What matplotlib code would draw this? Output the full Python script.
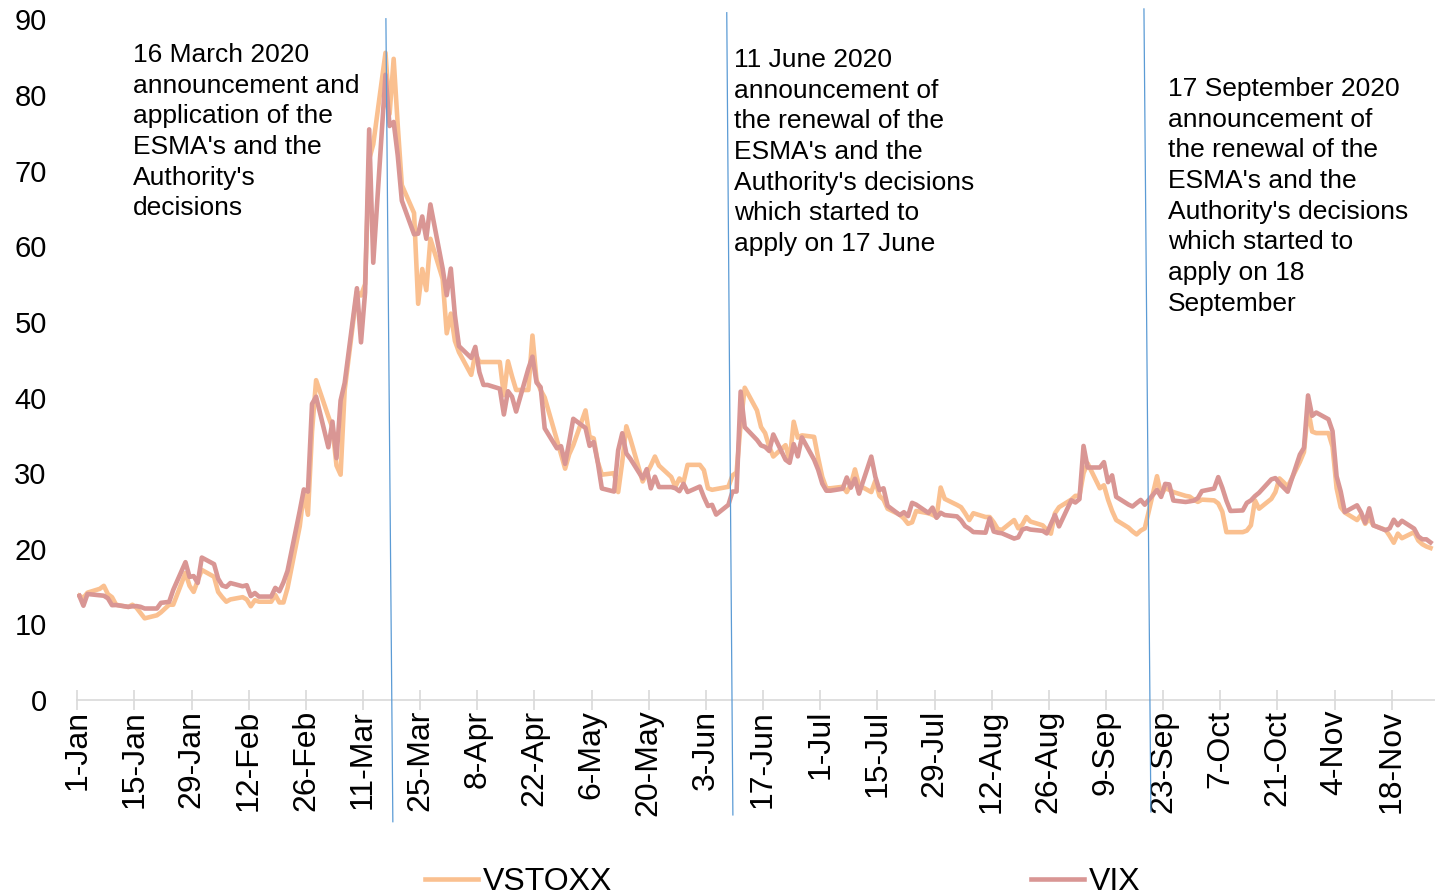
import numpy as np
import pandas as pd
import matplotlib
matplotlib.use("Agg")
import matplotlib.pyplot as plt

plt.rcParams['font.family'] = ['Liberation Sans', 'DejaVu Sans']

# daily closes (weekdays, holidays carry the previous value), 1 Jan - 27 Nov 2020
vstoxx = [
    # Jan
    13.8, 13.5, 14.2, 14.7, 15.1, 14.0, 13.6, 12.6, 12.3, 12.6, 12.2, 11.5, 10.8, 11.2, 11.6, 12.1,
    12.6, 12.6, 16.8, 15.1, 14.3, 15.8, 17.2,
    # Feb
    16.3, 14.3, 13.6, 13.0, 13.3, 13.6, 13.3, 12.4, 13.2, 13.0, 13.0, 13.9, 12.9, 12.9, 14.8, 23.0,
    27.5, 24.5, 35.5, 42.3,
    # Mar
    37.5, 36.0, 31.0, 29.8, 41.0, 54.0, 53.5, 55.0, 71.5, 73.5, 85.6, 77.5, 84.8, 76.0, 68.1, 64.4,
    52.4, 57.0, 54.2, 61.0, 55.7, 48.5,
    # Apr
    51.1, 47.5, 46.0, 43.0, 45.8, 44.7, 44.7, 44.7, 44.7, 40.3, 44.8, 42.8, 41.0, 41.0, 48.2, 42.3,
    41.0, 40.0, 34.4, 32.5, 30.6, 32.5,
    # May
    33.7, 38.3, 34.8, 34.6, 31.5, 29.8, 30.0, 27.5, 31.5, 36.2, 34.5, 28.9, 30.0, 31.0, 32.2, 31.0,
    29.5, 28.2, 29.3, 28.8, 31.1,
    # Jun
    31.1, 30.4, 28.0, 27.8, 27.9, 28.2, 29.7, 30.1, 36.5, 41.3, 38.3, 36.1, 35.3, 33.5, 32.2, 33.7,
    31.7, 36.8, 34.7, 35.0, 34.8, 32.0,
    # Jul
    29.5, 28.0, 28.0, 28.2, 27.5, 28.5, 30.5, 28.4, 27.5, 29.0, 27.0, 26.5, 25.3, 24.5, 24.0, 23.3,
    23.5, 25.0, 24.7, 24.5, 24.2, 28.1, 26.6,
    # Aug
    25.8, 25.5, 24.7, 23.8, 24.7, 24.2, 24.2, 23.5, 22.6, 22.5, 23.8, 22.7, 23.2, 24.2, 23.6, 23.1,
    22.5, 22.0, 24.7, 25.5, 26.5,
    # Sep
    27.0, 27.0, 30.0, 31.3, 28.0, 28.4, 26.5, 25.0, 23.8, 22.8, 22.3, 21.9, 22.4, 22.7, 29.6, 27.1,
    28.0, 27.8, 27.5, 27.0, 26.9, 26.5,
    # Oct
    26.2, 26.5, 26.4, 26.0, 24.9, 22.2, 22.2, 22.2, 22.4, 23.1, 26.4, 25.3, 26.6, 27.5, 29.3, 28.8,
    28.2, 31.5, 32.8, 38.5, 35.5, 35.3,
    # Nov
    35.3, 33.5, 28.0, 25.5, 24.8, 23.8, 24.5, 23.3, 24.0, 23.1, 22.5, 21.7, 20.8, 22.0, 21.4, 22.2,
    21.1, 20.6, 20.3, 20.1,
]

vix = [
    # Jan
    13.78, 12.47, 14.02, 13.85, 13.79, 13.45, 12.54, 12.56, 12.32, 12.39, 12.42, 12.32, 12.10, 12.10,
    12.85, 12.91, 12.98, 14.56, 18.23, 16.28, 16.39, 15.49, 18.84,
    # Feb
    17.97, 16.05, 15.15, 14.96, 15.47, 15.04, 15.18, 13.74, 14.15, 13.68, 13.68, 14.83, 14.38, 15.56,
    17.08, 25.03, 27.85, 27.56, 39.16, 40.11,
    # Mar
    33.42, 36.82, 31.99, 39.62, 41.94, 54.46, 47.30, 53.90, 75.47, 57.83, 82.69, 75.91, 76.45, 72.00,
    66.04, 61.59, 61.67, 63.95, 61.00, 65.54, 57.08, 53.54,
    # Apr
    57.06, 50.91, 46.80, 45.24, 46.70, 43.35, 41.67, 41.67, 41.17, 37.76, 40.84, 40.11, 38.15, 43.83,
    45.41, 41.98, 41.38, 35.93, 33.29, 33.57, 31.23, 34.15,
    # May
    37.19, 35.97, 33.61, 34.12, 31.44, 27.98, 27.57, 33.04, 35.28, 32.61, 31.89, 29.30, 30.53, 27.99,
    29.53, 28.16, 28.16, 28.01, 27.62, 28.59, 27.51,
    # Jun
    28.23, 26.84, 25.66, 25.81, 24.52, 25.81, 27.57, 27.57, 40.79, 36.09, 34.40, 33.67, 33.47, 32.94,
    35.12, 31.77, 31.37, 33.84, 32.22, 34.73, 31.78, 30.43,
    # Jul
    28.62, 27.68, 27.68, 27.94, 29.43, 28.08, 29.26, 27.29, 32.19, 29.52, 27.76, 28.00, 25.68, 24.46,
    24.84, 24.32, 26.08, 25.84, 24.74, 25.44, 24.10, 24.76, 24.46,
    # Aug
    24.28, 23.76, 22.99, 22.65, 22.21, 22.13, 24.03, 22.28, 22.13, 22.05, 21.35, 21.51, 22.54, 22.72,
    22.54, 22.37, 22.03, 23.27, 24.47, 22.96, 26.41,
    # Sep
    26.12, 26.57, 33.60, 30.75, 30.75, 31.46, 28.81, 29.71, 26.87, 25.85, 25.59, 26.04, 26.46, 25.83,
    27.78, 26.86, 28.58, 28.51, 26.38, 26.19, 26.27, 26.37,
    # Oct
    26.70, 27.63, 27.96, 29.48, 28.06, 26.36, 25.00, 25.07, 26.07, 26.40, 26.97, 27.41, 29.18, 29.35,
    28.65, 28.11, 27.55, 32.46, 33.35, 40.28, 37.59, 38.02,
    # Nov
    37.13, 35.55, 29.57, 27.58, 24.86, 25.75, 24.80, 23.45, 25.35, 23.10, 22.45, 22.71, 23.84, 23.11,
    23.70, 22.66, 21.64, 21.25, 21.25, 20.84,
]

dates = pd.bdate_range("2020-01-01", "2020-11-27")
assert len(dates) == len(vstoxx) == len(vix)
# points sit half a day right of the tick in the original
xdates = dates + pd.Timedelta(hours=12)

# ESMA decision dates, drawn as slightly slanted lines like the original
events = [pd.Timestamp("2020-03-16"), pd.Timestamp("2020-06-11"), pd.Timestamp("2020-09-17")]
event_texts = [
    "16 March 2020\nannouncement and\napplication of the\nESMA's and the\nAuthority's\ndecisions",
    "11 June 2020\nannouncement of\nthe renewal of the\nESMA's and the\nAuthority's decisions\n"
    "which started to\napply on 17 June",
    "17 September 2020\nannouncement of\nthe renewal of the\nESMA's and the\nAuthority's decisions\n"
    "which started to\napply on 18\nSeptember",
]

fig = plt.figure(figsize=(14.35, 8.96), dpi=100)
ax = fig.add_axes([77.3 / 1435, 1 - 700 / 896, 1 - 77.3 / 1435, (700 - 19.5) / 896])

ax.plot(xdates, vstoxx, color="#FAC090", lw=3.3, label="VSTOXX", solid_joinstyle="round")
ax.plot(xdates, vix, color="#D99694", lw=3.3, label="VIX", solid_joinstyle="round")

start = pd.Timestamp("2020-01-01")
ax.set_xlim(start, start + pd.Timedelta(days=332.6))
ax.set_ylim(0, 90)

# vertical marker lines (day offsets of top and bottom end, y of top and bottom end)
line_ends = [(0.6, 2.3, 90.1, -16.1), (-2.9, -1.4, 90.9, -15.2), (1.3, 3.0, 91.4, -14.8)]
for ev, (dt_top, dt_bot, y_top, y_bot) in zip(events, line_ends):
    ax.plot([ev + pd.Timedelta(days=dt_top), ev + pd.Timedelta(days=dt_bot)], [y_top, y_bot],
            color="#5B9BD5", lw=0.9, clip_on=False, zorder=5)

text_pos = [(133, 43), (734, 48), (1168, 77)]
for (px, py), txt in zip(text_pos, event_texts):
    fig.text(px / 1435, 1 - py / 896, txt, fontsize=19, va="top", ha="left", linespacing=1.35)

ticks = pd.date_range("2020-01-01", "2020-11-18", freq="14D")
ax.set_xticks(ticks)
ax.set_xticklabels([f"{d.day}-{d:%b}" for d in ticks], rotation=90, fontsize=23)
ax.set_yticks(np.arange(0, 91, 10))
ax.tick_params(axis="y", length=0, pad=22, labelsize=21)
ax.tick_params(axis="x", direction="inout", length=14, width=1.2, color="#D9D9D9", pad=0)

for s in ["top", "right", "left"]:
    ax.spines[s].set_visible(False)
ax.spines["bottom"].set_color("#D9D9D9")
ax.spines["bottom"].set_linewidth(1.2)

ax.legend(loc="center", bbox_to_anchor=(783 / 1435, 1 - 882 / 896), bbox_transform=fig.transFigure,
          ncol=2, frameon=False, fontsize=23, handlelength=1.66, handletextpad=0.16,
          columnspacing=13.1, borderpad=0, borderaxespad=0)

fig.savefig("out.png", dpi=100)
